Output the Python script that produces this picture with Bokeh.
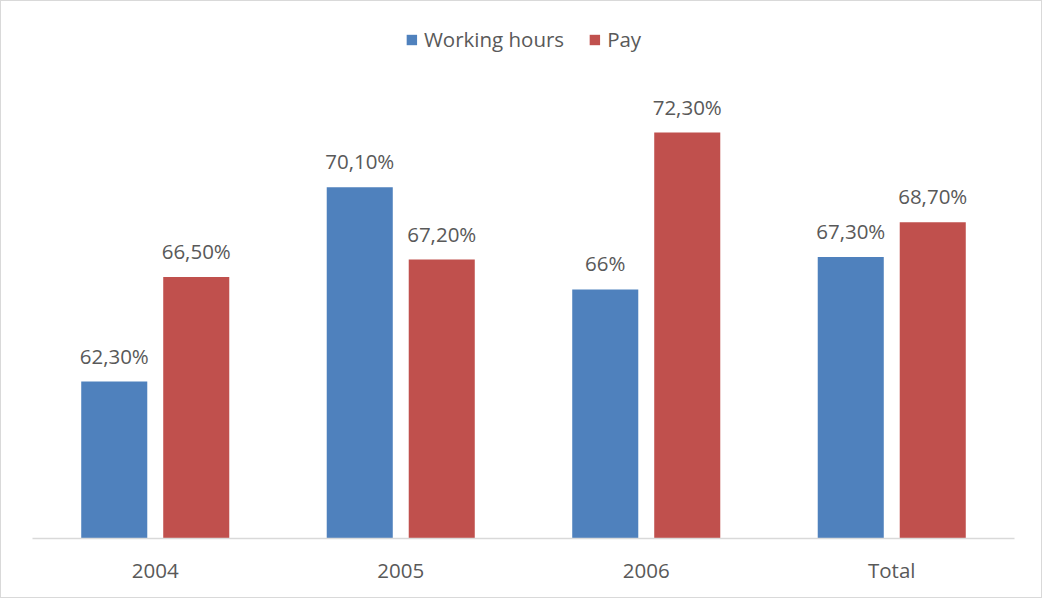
from bokeh.plotting import figure
from bokeh.models import ColumnDataSource, FactorRange, Range1d, Legend, LegendItem
from bokeh.transform import dodge
from bokeh.core.properties import value
from bokeh.embed import file_html
from bokeh.resources import INLINE

categories = ["2004", "2005", "2006", "Total"]
working_hours = [62.3, 70.1, 66.0, 67.3]
pay = [66.5, 67.2, 72.3, 68.7]
working_labels = ["62,30%", "70,10%", "66%", "67,30%"]
pay_labels = ["66,50%", "67,20%", "72,30%", "68,70%"]

Y_START = 56.0
Y_END = 77.16

BLUE = "#4f81bd"
RED = "#c0504d"
TEXT = "#595959"
FONT = "Open Sans"

src = ColumnDataSource(dict(
    cat=categories,
    wh=working_hours,
    pay=pay,
    whl=working_labels,
    payl=pay_labels,
    base=[Y_START] * len(categories),
))

p = figure(
    width=1042, height=598,
    x_range=FactorRange(*categories, range_padding=0),
    y_range=Range1d(Y_START, Y_END),
    output_backend="svg", toolbar_location=None,
    min_border_left=31, min_border_right=29,
    min_border_top=10, min_border_bottom=61,
)
p.styles = {"border": "1px solid #d9d9d9", "box-sizing": "border-box"}

r1 = p.vbar(x=dodge("cat", -0.167, range=p.x_range), top="wh", bottom="base",
            width=0.269, source=src, fill_color=BLUE, line_color=None)
r2 = p.vbar(x=dodge("cat", 0.167, range=p.x_range), top="pay", bottom="base",
            width=0.269, source=src, fill_color=RED, line_color=None)

p.text(x=dodge("cat", -0.167, range=p.x_range), y="wh", text="whl", source=src,
       text_font=value(FONT), text_font_size="20.5px", text_color=TEXT,
       text_align="center", text_baseline="alphabetic", y_offset=-26)
p.text(x=dodge("cat", 0.167, range=p.x_range), y="pay", text="payl", source=src,
       text_font=value(FONT), text_font_size="20.5px", text_color=TEXT,
       text_align="center", text_baseline="alphabetic", y_offset=-26)

legend = Legend(items=[LegendItem(label="Working hours", renderers=[r1]),
                       LegendItem(label="Pay", renderers=[r2])],
                orientation="horizontal", location="top_center",
                glyph_width=13, glyph_height=13, label_standoff=6, spacing=24,
                padding=0, margin=14, border_line_color=None,
                background_fill_alpha=0,
                label_text_font=FONT, label_text_font_size="20.5px",
                label_text_color=TEXT)
p.add_layout(legend, "center")

p.yaxis.visible = False
p.grid.visible = False
p.outline_line_color = None
p.xaxis.axis_line_color = "#d9d9d9"
p.xaxis.axis_line_width = 1.5
p.xaxis.major_tick_line_color = None
p.xaxis.minor_tick_line_color = None
p.xaxis.major_label_standoff = 11
p.xaxis.major_label_text_font = FONT
p.xaxis.major_label_text_font_size = "20.5px"
p.xaxis.major_label_text_color = TEXT

open("out.html", "w").write(file_html(p, INLINE))
